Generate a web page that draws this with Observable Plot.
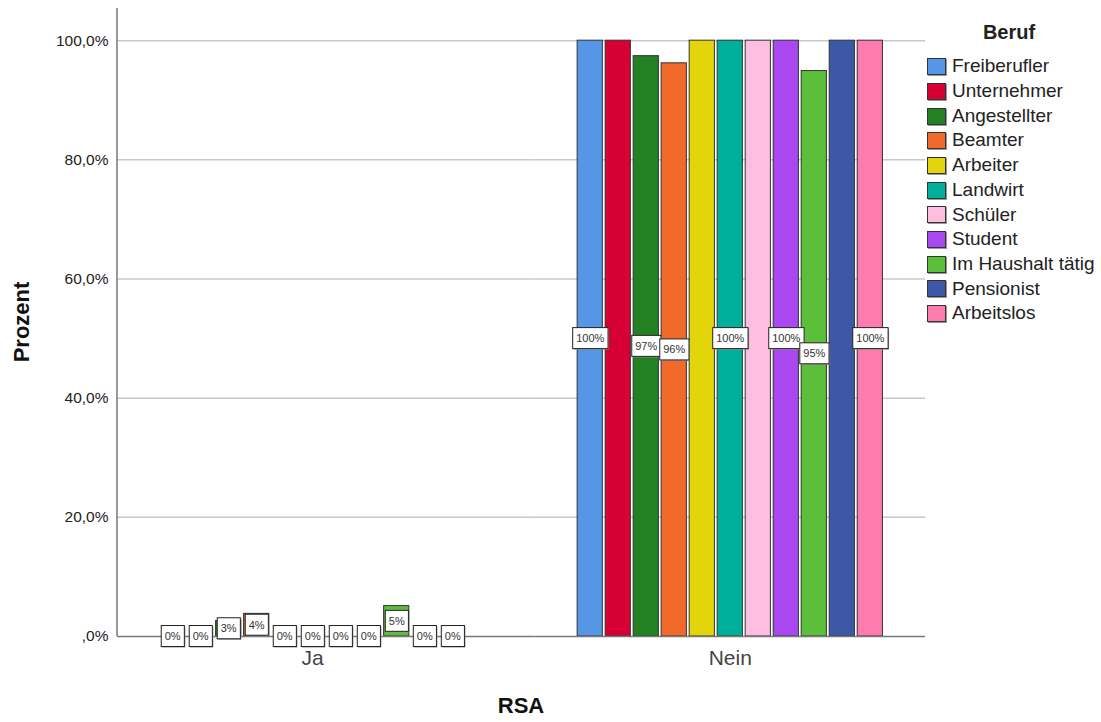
<!DOCTYPE html>
<html>
<head>
<meta charset="utf-8">
<script src="https://cdn.jsdelivr.net/npm/d3@7"></script>
<script src="https://cdn.jsdelivr.net/npm/@observablehq/plot@0.6"></script>
<style>
  body { margin: 0; background: #fff; font-family: "Liberation Sans", Arial, sans-serif; }
  #wrap { position: relative; width: 1101px; height: 722px; }
  .axis-title { position: absolute; font-weight: bold; font-size: 22px; color: #111; white-space: nowrap; }
  #legend { position: absolute; left: 927px; top: 20px; color: #222; }
  #legend .ttl { position: absolute; left: 32px; width: 100px; text-align: center; font-weight: bold; font-size: 20px; line-height: 24px; top: 0; }
  #legend .item { position: absolute; left: 0; display: flex; align-items: center; font-size: 19px; line-height: 24.7px; white-space: nowrap; }
  #legend .sw { width: 17px; height: 15px; border: 1px solid #333; margin-right: 6px; box-shadow: 1px 1px 0 #999; }
</style>
</head>
<body>
<div id="wrap"></div>
<script>
// ---- data ----
const rsaCategories = ["Ja", "Nein"];
const berufCategories = ["Freiberufler", "Unternehmer", "Angestellter", "Beamter", "Arbeiter", "Landwirt", "Schüler", "Student", "Im Haushalt tätig", "Pensionist", "Arbeitslos"];
const jaPercent   = [0, 0, 2.6, 3.8, 0, 0, 0, 0, 5.1, 0, 0];
const neinPercent = [100, 100, 97.4, 96.2, 100, 100, 100, 100, 94.9, 100, 100];
const berufColors = ["#5596e6", "#d70035", "#238023", "#f26a2b", "#e2d50b", "#00af99", "#fdbee0", "#a947f0", "#5bbf3a", "#3d58a6", "#fd7bae"];
const neinHiddenLabels = ["Unternehmer", "Arbeiter", "Schüler", "Pensionist"];
const yTickValues = [0, 20, 40, 60, 80, 100];
const yMax = 105.4;
const legendTitle = "Beruf";
const xTitle = "RSA";
const yTitle = "Prozent";

// ---- tables ----
const rows = [];
berufCategories.forEach((b, i) => {
  rows.push({RSA: "Ja", Beruf: b, value: jaPercent[i]});
  rows.push({RSA: "Nein", Beruf: b, value: neinPercent[i]});
});
const labelRows = rows.filter(d => !(d.RSA === "Nein" && neinHiddenLabels.includes(d.Beruf)));
const gridRows = rsaCategories.flatMap(r => yTickValues.map(v => ({RSA: r, v})));

// ---- layout ----
const W = 1101, H = 722, mL = 117, mR = 176, mT = 8, mB = 86;
const fxPadInner = 0.065;
const frameW = W - mL - mR;
const fxStep = frameW / (2 - fxPadInner);
const gap = fxStep * fxPadInner;
const font = "'Liberation Sans', Arial, sans-serif";

const fmtY = d => d === 0 ? ",0%" : d.toFixed(1).replace(".", ",") + "%";

const plot = Plot.plot({
  width: W, height: H,
  marginLeft: mL, marginRight: mR, marginTop: mT, marginBottom: mB,
  style: {fontFamily: font, background: "white", overflow: "visible"},
  fx: {domain: rsaCategories, paddingInner: fxPadInner, paddingOuter: 0, round: false},
  x: {domain: berufCategories, paddingInner: 0.1, paddingOuter: 1.52, round: false, axis: null},
  y: {domain: [0, yMax]},
  color: {domain: berufCategories, range: berufColors},
  marks: [
    Plot.ruleY(gridRows.filter(d => d.v > 0 && d.RSA === "Ja"), {fx: "RSA", y: "v", stroke: "#c8c8c8", strokeWidth: 1.5, insetRight: -gap}),
    Plot.ruleY(gridRows.filter(d => d.v > 0 && d.RSA === "Nein"), {fx: "RSA", y: "v", stroke: "#c8c8c8", strokeWidth: 1.5}),
    Plot.barY(rows, {fx: "RSA", x: "Beruf", y: "value", fill: "Beruf", stroke: "#333", strokeWidth: 1}),
    Plot.ruleY(gridRows.filter(d => d.v === 0 && d.RSA === "Ja"), {fx: "RSA", y: "v", stroke: "#777", strokeWidth: 1.5, insetRight: -gap}),
    Plot.ruleY(gridRows.filter(d => d.v === 0 && d.RSA === "Nein"), {fx: "RSA", y: "v", stroke: "#777", strokeWidth: 1.5}),
    Plot.text(labelRows, {fx: "RSA", x: "Beruf", y: d => d.value / 2, text: d => Math.round(d.value) + "%", fontSize: 11, fill: "#333", className: "seglbl"}),
    Plot.axisY({ticks: yTickValues, tickFormat: fmtY, tickSize: 0, tickPadding: 9, fontSize: 15.5, label: null, color: "#222"}),
    Plot.axisFx({anchor: "bottom", tickSize: 0, tickPadding: 14, fontSize: 21, label: null, color: "#444"})
  ]
});

const wrap = document.getElementById("wrap");
wrap.appendChild(plot);

// y axis line
const ns = "http://www.w3.org/2000/svg";
const axLine = document.createElementNS(ns, "line");
axLine.setAttribute("x1", mL); axLine.setAttribute("x2", mL);
axLine.setAttribute("y1", mT); axLine.setAttribute("y2", H - mB);
axLine.setAttribute("stroke", "#777"); axLine.setAttribute("stroke-width", 1.5);
plot.appendChild(axLine);

// boxes behind value labels
plot.querySelectorAll("g.seglbl text").forEach(t => {
  const b = t.getBBox();
  const g = t.parentNode;
  const px = 3.5, py = 4.5;
  const mk = (off, fill, stroke) => {
    const r = document.createElementNS(ns, "rect");
    r.setAttribute("x", b.x - px + off);
    r.setAttribute("y", b.y - py + off);
    r.setAttribute("width", b.width + 2 * px);
    r.setAttribute("height", b.height + 2 * py);
    r.setAttribute("fill", fill);
    r.setAttribute("stroke", stroke);
    r.setAttribute("stroke-width", 1);
    const tr = t.getAttribute("transform");
    if (tr) r.setAttribute("transform", tr);
    g.insertBefore(r, t);
  };
  mk(1, "#999", "none");
  mk(0, "#fff", "#222");
});

// axis titles
const xt = document.createElement("div");
xt.className = "axis-title";
xt.textContent = xTitle;
xt.style.left = ((mL + W - mR) / 2) + "px";
xt.style.top = "706px";
xt.style.transform = "translate(-50%,-50%)";
wrap.appendChild(xt);

const yt = document.createElement("div");
yt.className = "axis-title";
yt.textContent = yTitle;
yt.style.left = "22px";
yt.style.top = "322px";
yt.style.transform = "translate(-50%,-50%) rotate(-90deg)";
wrap.appendChild(yt);

// legend
const lg = document.createElement("div");
lg.id = "legend";
const ttl = document.createElement("div");
ttl.className = "ttl";
ttl.textContent = legendTitle;
lg.appendChild(ttl);
berufCategories.forEach((b, i) => {
  const it = document.createElement("div");
  it.className = "item";
  it.style.top = (34.3 + i * 24.7) + "px";
  const sw = document.createElement("div");
  sw.className = "sw";
  sw.style.background = berufColors[i];
  const tx = document.createElement("span");
  tx.textContent = b;
  it.appendChild(sw); it.appendChild(tx);
  lg.appendChild(it);
});
wrap.appendChild(lg);
</script>
</body>
</html>
